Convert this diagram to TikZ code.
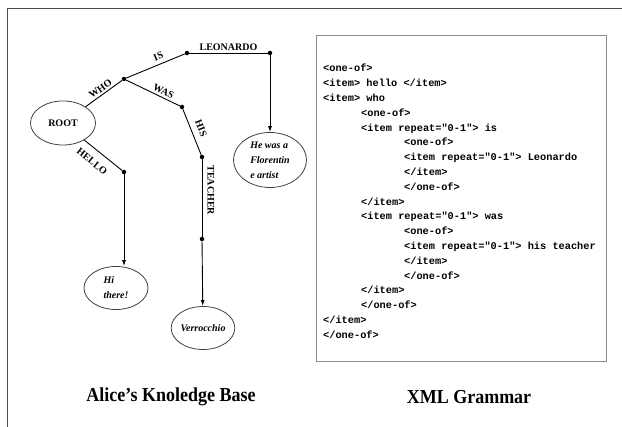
\documentclass[tikz,border=0pt]{standalone}
\usepackage{fontspec}
\setmainfont{Liberation Serif}
\setmonofont{Liberation Mono}
\usetikzlibrary{shapes.geometric,arrows.meta}

\newcommand{\indA}{\hspace*{38pt}}
\newcommand{\indB}{\hspace*{81pt}}

\begin{document}
\begin{tikzpicture}[
  x=1pt, y=-1pt,
  tnode/.style={ellipse, draw=black!75, line width=0.8pt, inner sep=0pt, align=left,
    font=\bfseries\itshape\fontsize{10}{15}\selectfont},
  rnode/.style={ellipse, draw=black!75, line width=0.8pt, inner sep=0pt,
    font=\bfseries\fontsize{10}{12}\selectfont},
  dnode/.style={circle, fill=black, inner sep=0pt, minimum size=4.5pt},
  lbl/.style={font=\bfseries\fontsize{10}{12}\selectfont, sloped, above, inner sep=2pt},
  arw/.style={-{Latex[length=6pt,width=4pt]}, line width=0.9pt},
  symline/.style={-, line width=0.9pt},
  ttl/.style={font=\bfseries\fontsize{18}{20}\selectfont, yscale=1.1}
  ]

\useasboundingbox (0,0) rectangle (622,427);
\draw [black!70, line width=1pt] (7,427) -- (7,9) -- (622,9);

% knowledge tree
\node [rnode, minimum width=65pt, minimum height=44pt] (root) at (63,123) {ROOT};
\node [dnode] (who) at (124,79) {};
\node [dnode] (is) at (187,53) {};
\node [dnode] (leo) at (270,53) {};
\node [tnode, minimum width=73pt, minimum height=55pt] (flor) at (270,160) {He was a\\Florentin\\e artist};
\node [dnode] (was) at (182,107) {};
\node [dnode] (his) at (202,157) {};
\node [dnode] (teacher) at (202,239) {};
\node [tnode, minimum width=63pt, minimum height=43pt] (verr) at (203,328) {Verrocchio};
\node [dnode] (hello) at (124,172) {};
\node [tnode, minimum width=64pt, minimum height=43pt] (hi) at (116,288) {Hi\\there!};

\draw [symline] (root) -- node [lbl] {WHO} (who);
\draw [symline] (who) -- node [lbl, pos=0.6, inner sep=4pt] {IS} (is);
\draw [symline] (is) -- node [lbl] {LEONARDO} (leo);
\draw [arw] (leo) -- (flor);
\draw [symline] (who) -- node [lbl, pos=0.65] {WAS} (was);
\draw [symline] (was) -- node [lbl, inner sep=6pt] {HIS} (his);
\draw [symline] (his) -- node [lbl, pos=0.4, inner sep=5pt] {TEACHER} (teacher);
\draw [arw] (teacher) -- (verr);
\draw [symline] (root) -- node [lbl, below, pos=0.4, inner sep=8pt] {HELLO} (hello);
\draw [arw] (hello) -- (hello |- hi.north);

% grammar
\node [draw=black!45, line width=0.8pt, minimum width=290pt, minimum height=326pt,
  anchor=north west] (xmlbox) at (316,35) {};
\node [anchor=north west, inner sep=0pt, align=left,
  font=\ttfamily\bfseries\fontsize{10.3}{14.8}\selectfont] (xml) at (323,64) {%
<one-of>\\
<item> hello </item>\\
<item> who\\
\indA<one-of>\\
\indA<item repeat="0-1"> is\\
\indB<one-of>\\
\indB<item repeat="0-1"> Leonardo\\
\indB</item>\\
\indB</one-of>\\
\indA</item>\\
\indA<item repeat="0-1"> was\\
\indB<one-of>\\
\indB<item repeat="0-1"> his teacher\\
\indB</item>\\
\indB</one-of>\\
\indA</item>\\
\indA</one-of>\\
</item>\\
</one-of>};

\node [ttl] (kbtitle) at (171,397) {Alice's Knoledge Base};
\node [ttl] (xmltitle) at (469,397) {XML Grammar};

\end{tikzpicture}
\end{document}
